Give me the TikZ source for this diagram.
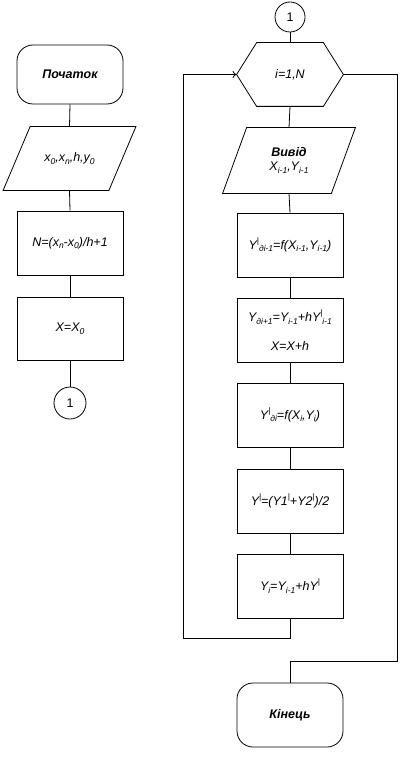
\documentclass[tikz,border=0pt]{standalone}
\usepackage{fontspec}
\setmainfont{Liberation Sans}
\usetikzlibrary{arrows.meta}
\newcommand{\lo}[1]{\raisebox{-0.45ex}{\fontsize{8.5}{9}\selectfont #1}}
\newcommand{\hi}{\raisebox{0.8ex}{\fontsize{8}{9}\selectfont |}}
\begin{document}
\begin{tikzpicture}[x=1pt,y=-1pt, line width=0.8pt,
  every node/.style={font=\itshape\fontsize{12.5}{14}\selectfont},
  box/.style={draw, minimum width=106pt, minimum height=64pt, inner sep=0pt, align=center},
  term/.style={box, rounded corners=16pt, font=\itshape\bfseries\fontsize{12.5}{14}\selectfont},
  ghost/.style={minimum width=106pt, minimum height=64pt, inner sep=0pt, align=center},
  conn/.style={draw, circle, minimum size=31pt, inner sep=0pt, font=\fontsize{12.5}{14}\selectfont},
  tip/.style={-{To[length=4pt,width=7pt]}}]
\useasboundingbox (0,0) rectangle (404,778);

% left column
\node[term, minimum height=59pt] (start) at (70,74.5) {Початок};
\node[ghost, minimum width=105pt, minimum height=63pt] (in1) at (69.5,158.5) {x\lo{0},x\lo{n},h,y\lo{0}};
\draw ([xshift=13.5pt]in1.north west) -- ([xshift=13.5pt]in1.north east)
  -- ([xshift=-13.5pt]in1.south east) -- ([xshift=-13.5pt]in1.south west) -- cycle;
\node[box] (nb) at (70,243) {N=(x\lo{n}-x\lo{0})/h+1};
\node[box, minimum height=63pt] (xb) at (70,328.5) {X=X\lo{0}};
\node[conn, minimum size=32pt] (c1) at (70,403) {1};

\draw (start.south) -- (in1.north);
\draw (in1.south) -- (nb.north);
\draw (nb.south) -- (xb.north);
\draw (xb.south) -- (c1.north);

% right column
\node[conn, minimum size=30pt] (c2) at (290,17) {1};
\node[ghost, minimum height=63pt] (loop) at (290,74.5) {i=1,N};
\draw (loop.west) -- ([xshift=20pt]loop.north west) -- ([xshift=-20pt]loop.north east)
  -- (loop.east) -- ([xshift=-20pt]loop.south east) -- ([xshift=20pt]loop.south west) -- cycle;
\node[ghost, minimum width=108pt, minimum height=65pt] (out) at (289,160.5)
  {{\bfseries Вивід}\\X\lo{i-1},Y\lo{i-1}};
\draw ([xshift=12pt]out.north west) -- ([xshift=12pt]out.north east)
  -- ([xshift=-12pt]out.south east) -- ([xshift=-12pt]out.south west) -- cycle;
\node[box] (b1) at (290,245) {Y\hi\lo{дi-1}=f(X\lo{i-1},Y\lo{i-1})};
\node[box] (b2) at (290,330) {Y\lo{дi+1}=Y\lo{i-1}+hY\hi\lo{i-1}\\[15pt]X=X+h};
\node[box] (b3) at (290,415) {Y\hi\lo{дi}=f(X\lo{i},Y\lo{i})};
\node[box] (b4) at (290,501) {Y\hi=(Y1\hi+Y2\hi)/2};
\node[box] (b5) at (290,586) {Y\lo{i}=Y\lo{i-1}+hY\hi};
\node[term] (end) at (290,715) {Кінець};

\draw (c2.south) -- (loop.north);
\draw (loop.south) -- (out.north);
\draw (out.south) -- (b1.north);
\draw (b1.south) -- (b2.north);
\draw (b2.south) -- (b3.north);
\draw (b3.south) -- (b4.north);
\draw (b4.south) -- (b5.north);

\coordinate (lb) at (183,638);
\coordinate (lt) at (183,74.5);
\coordinate (rt) at (397,74.5);
\coordinate (rb) at (397,661);
\draw[tip] (b5.south) |- (lb) -- (lt) -- (loop.west);
\draw (loop.east) -- (rt) -- (rb) -| (end.north);
\end{tikzpicture}
\end{document}
